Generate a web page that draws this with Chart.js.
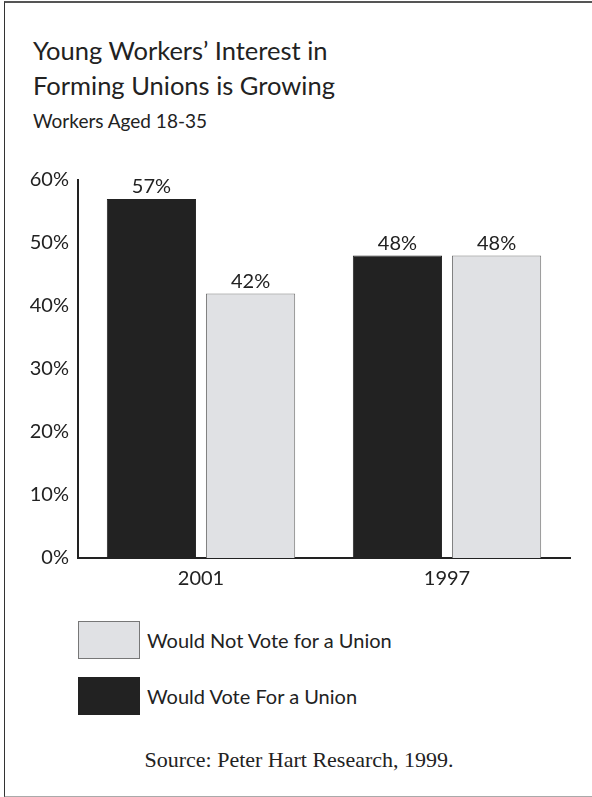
<!DOCTYPE html>
<html>
<head>
<meta charset="utf-8">
<script src="https://cdn.jsdelivr.net/npm/chart.js@4.4.0/dist/chart.umd.min.js"></script>
<style>
  body { margin: 0; background: #fff; width: 592px; height: 797px; overflow: hidden; position: relative; font-family: Lato, "Noto Sans", sans-serif; color: #222; }
  #frame { position: absolute; left: 4px; top: 1px; width: 600px; height: 793px; border-left: 1px solid #333; border-top: 2px solid #555; border-bottom: 2px solid #aaa; }
  #title { position: absolute; left: 33px; top: 33px; font-size: 25.5px; line-height: 35px; }
  #subtitle { position: absolute; left: 33px; top: 109px; font-size: 19px; }
  #wrap { position: absolute; left: 0; top: 0; width: 592px; height: 600px; }
  .leg { position: absolute; left: 78px; width: 60px; height: 36px; border: 1px solid #777; }
  .legtxt { position: absolute; left: 147px; font-size: 20px; }
  #source { position: absolute; left: 0; width: 598px; top: 747px; text-align: center; font-family: "Liberation Serif", "DejaVu Serif", serif; font-size: 22px; }
</style>
</head>
<body>
<div id="frame"></div>
<div id="title">Young Workers’ Interest in<br>Forming Unions is Growing</div>
<div id="subtitle">Workers Aged 18-35</div>
<div id="wrap"><canvas id="chart" width="592" height="600"></canvas></div>
<div class="leg" id="leg0" style="top:621px"></div>
<div class="legtxt" id="legt0" style="top:628px"></div>
<div class="leg" id="leg1" style="top:677px"></div>
<div class="legtxt" id="legt1" style="top:684px"></div>
<div id="source">Source: Peter Hart Research, 1999.</div>
<script>
const years = ['2001', '1997'];
const voteFor = [57, 48];
const voteNot = [42, 48];
const seriesNames = ['Would Vote For a Union', 'Would Not Vote for a Union'];
const seriesColors = ['#222222', '#e0e1e4'];
const seriesBorders = ['#222222', '#777777'];

// legend: grey one on top
document.querySelector('#leg0').style.background = seriesColors[1];
document.querySelector('#legt0').textContent = seriesNames[1];
document.querySelector('#leg1').style.background = seriesColors[0];
document.querySelector('#leg1').style.borderColor = seriesBorders[0];
document.querySelector('#legt1').textContent = seriesNames[0];

const barLabels = {
    id: 'barLabels',
    afterDatasetsDraw(chart) {
        const ctx = chart.ctx;
        ctx.save();
        ctx.font = '20px Lato, "Noto Sans", sans-serif';
        ctx.fillStyle = '#222';
        ctx.textAlign = 'center';
        ctx.textBaseline = 'bottom';
        chart.data.datasets.forEach((ds, i) => {
            chart.getDatasetMeta(i).data.forEach((bar, j) => {
                ctx.fillText(ds.data[j] + '%', bar.x, bar.y - 2);
            });
        });
        ctx.restore();
    }
};

const chart = document.querySelector('#chart').getContext('2d');

new Chart(chart, {
    type: 'bar',
    data: {
        labels: years,
        datasets: [
            {
                label: seriesNames[0],
                data: voteFor,
                backgroundColor: seriesColors[0],
                borderColor: seriesBorders[0],
                borderWidth: 1
            },
            {
                label: seriesNames[1],
                data: voteNot,
                backgroundColor: seriesColors[1],
                borderColor: seriesBorders[1],
                borderWidth: 1
            }
        ]
    },
    options: {
        responsive: false,
        animation: false,
        layout: { padding: { top: 180, right: 22, left: 0, bottom: 0 } },
        categoryPercentage: 0.806,
        barPercentage: 0.9,
        plugins: { legend: { display: false }, tooltip: { enabled: false } },
        scales: {
            x: {
                grid: { display: false },
                border: { display: true, color: '#222', width: 2 },
                ticks: { color: '#222', font: { size: 20, family: 'Lato' }, padding: 1 },
                afterFit(scale) { scale.height = 42; }
            },
            y: {
                min: 0,
                max: 60,
                grid: { display: false, drawTicks: false },
                border: { display: true, color: '#222', width: 2 },
                ticks: {
                    stepSize: 10,
                    color: '#222',
                    padding: 9,
                    font: { size: 20, family: 'Lato' },
                    callback: v => v + '%'
                },
                afterFit(scale) { scale.width = 78; }
            }
        }
    },
    plugins: [barLabels]
});
</script>
</body>
</html>
